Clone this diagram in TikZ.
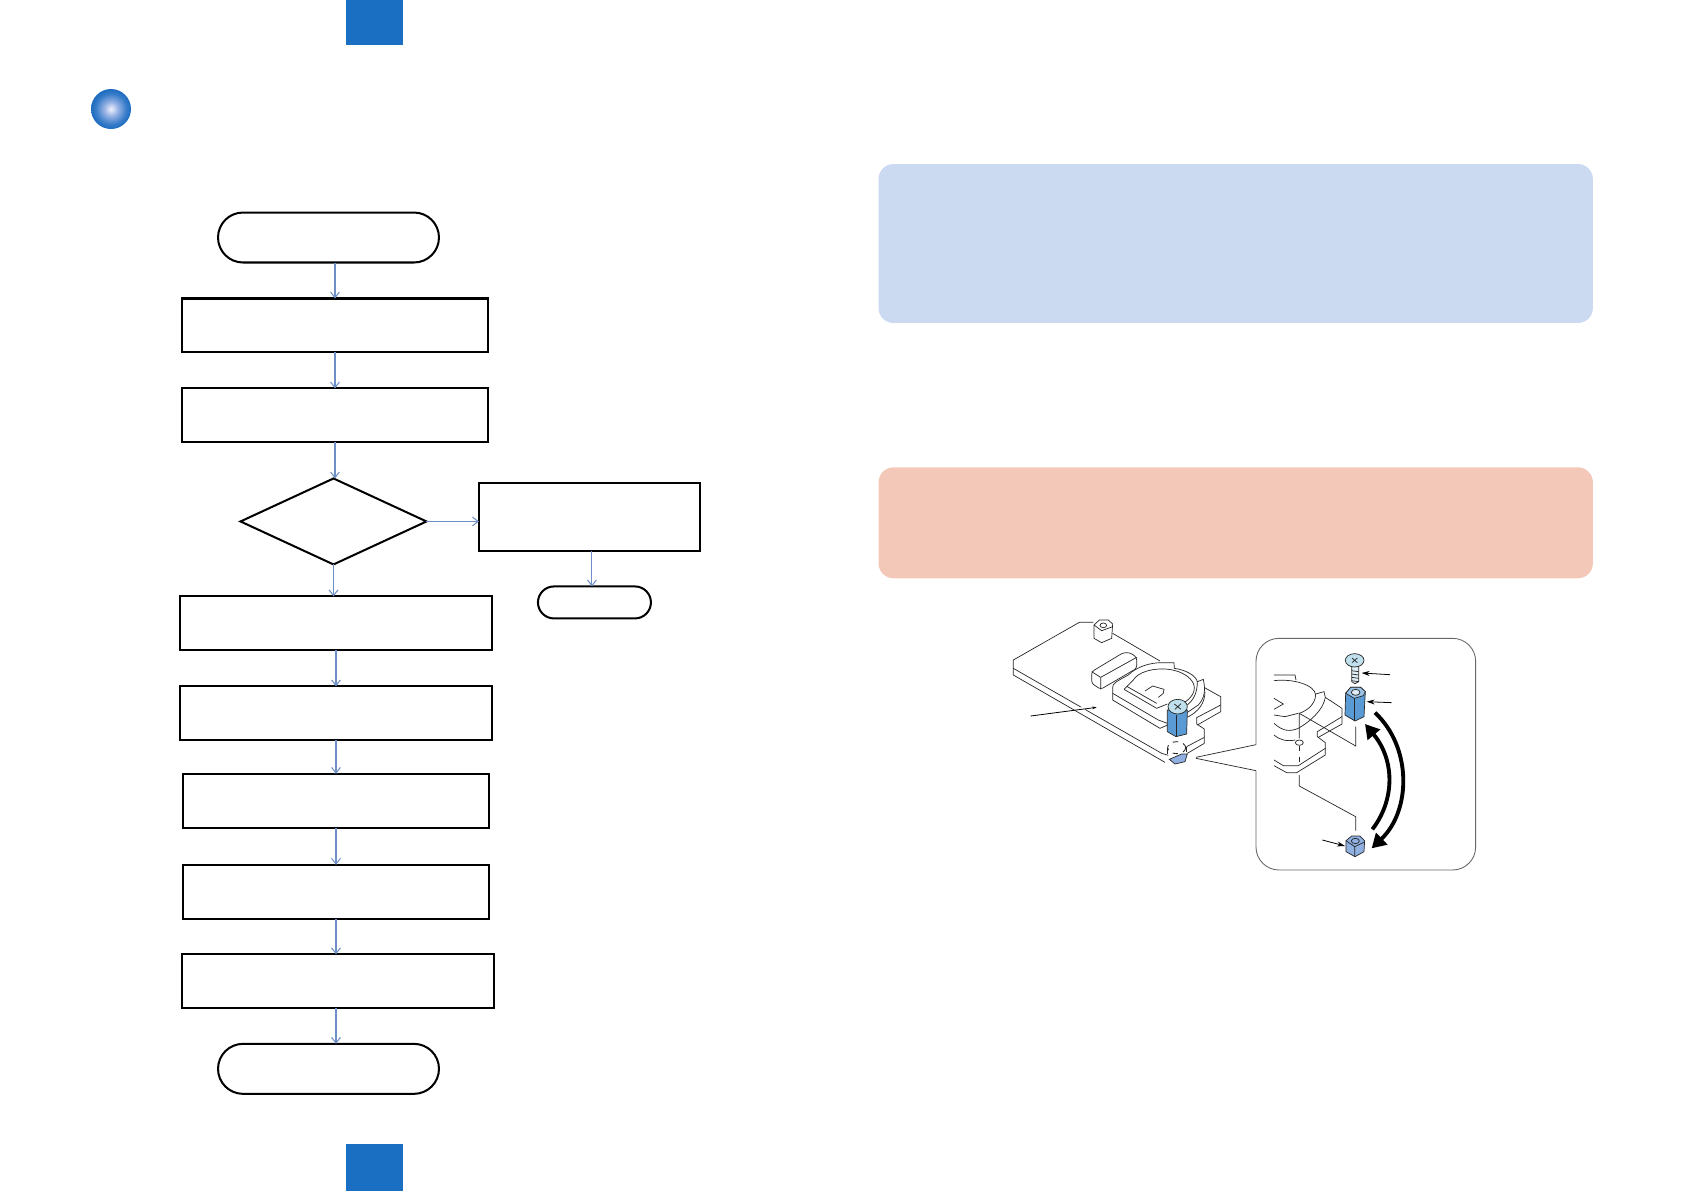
\documentclass[tikz,border=0pt]{standalone}
\usepackage{amsmath,amssymb}
\usepackage{tikz}
\usetikzlibrary{arrows.meta,positioning,shapes.geometric,shapes.misc}
\definecolor{tabblue}{HTML}{1B6FC2}
\definecolor{flowblue}{HTML}{6F90C6}
\definecolor{notefill}{HTML}{CBD9F1}
\definecolor{warnfill}{HTML}{F4C8B9}
\definecolor{partblue}{HTML}{5B9BD5}
\definecolor{partlight}{HTML}{BFE0EC}
\definecolor{nutblue}{HTML}{8FB0E0}
\pgfdeclareradialshading{headball}{\pgfpointorigin}{rgb(0bp)=(0.94,0.95,0.99); rgb(9bp)=(0.58,0.69,0.89); rgb(19bp)=(0.22,0.49,0.79); rgb(25bp)=(0.11,0.42,0.75); rgb(50bp)=(0.11,0.42,0.75)}

\begin{document}
\begin{tikzpicture}[x=0.02cm, y=-0.02cm,
    stepbox/.style={draw, line width=1.15pt, outer sep=0pt, inner sep=0pt, minimum height=1.08cm},
    startstop/.style={rounded rectangle, draw, line width=1.15pt, outer sep=0pt, inner sep=0pt, minimum width=4.42cm, minimum height=1cm},
    check/.style={diamond, draw, line width=1.15pt, outer sep=0pt, inner sep=0pt, minimum width=3.72cm, minimum height=1.72cm},
    flow/.style={draw=flowblue, line width=0.6pt, -{Straight Barb[length=3.2pt,width=5pt]}},
    tab/.style={fill=tabblue, outer sep=0pt, inner sep=0pt, minimum width=1.14cm},
    panel/.style={rounded corners=0.3cm, outer sep=0pt, inner sep=0pt, minimum width=14.29cm},
    partline/.style={line width=0.4pt, black!85},
    bluepart/.style={partline, fill=partblue},
    backarrow/.style={line width=2.2pt, -{Triangle[length=8pt,width=9pt]}},
    pointer/.style={line width=0.45pt, -{Stealth[length=4.5pt,width=2.8pt]}}]
    \useasboundingbox (0,0) rectangle (1684,1191);

    \node[tab, minimum height=0.9cm] (toptab) at (374.5,22.5) {};
    \node[tab, minimum height=0.94cm] (bottomtab) at (374.5,1167.5) {};
    \shade[shading=headball] (111,109) circle (20);

    \node[startstop] (start) at (328.5,237.5) {};
    \node[stepbox, minimum width=6.14cm, below=0.72cm of start, xshift=0.13cm] (removebox) {};
    \node[stepbox, minimum width=6.14cm, below=0.72cm of removebox] (fitbox) {};
    \node[check, below=0.72cm of fitbox, xshift=-0.03cm] (decision) {};
    \node[stepbox, minimum width=4.42cm, minimum height=1.36cm, right=1.05cm of decision, yshift=0.08cm] (sidebox) {};
    \node[startstop, minimum width=2.26cm, minimum height=0.64cm, below=0.7cm of sidebox, xshift=0.1cm] (sidestop) {};
    \node[stepbox, minimum width=6.23cm, below=0.64cm of decision, xshift=0.05cm] (stepa) {};
    \node[stepbox, minimum width=6.23cm, below=0.72cm of stepa] (stepb) {};
    \node[stepbox, minimum width=6.14cm, below=0.67cm of stepb] (stepc) {};
    \node[stepbox, minimum width=6.14cm, below=0.74cm of stepc] (stepd) {};
    \node[stepbox, minimum width=6.23cm, below=0.71cm of stepd, xshift=0.04cm] (stepe) {};
    \node[startstop, below=0.71cm of stepe, xshift=-0.19cm] (stop) {};

    \draw[flow] (start.south -| removebox.north) -- (removebox.north);
    \draw[flow] (removebox) -- (fitbox);
    \draw[flow] (fitbox.south) -- (fitbox.south |- decision.north);
    \draw[flow] (decision.east) -- (decision.east -| sidebox.west);
    \draw[flow] ([xshift=0.05cm]sidebox.south) -- ([xshift=0.05cm]sidebox.south |- sidestop.north);
    \draw[flow] (decision.south) -- (decision.south |- stepa.north);
    \draw[flow] (stepa) -- (stepb);
    \draw[flow] (stepb) -- (stepc);
    \draw[flow] (stepc) -- (stepd);
    \draw[flow] (stepd.south) -- (stepd.south |- stepe.north);
    \draw[flow] (stepd.south |- stepe.south) -- (stepd.south |- stop.north);

    \node[panel, fill=notefill, minimum height=3.18cm] (note) at (1235.7,243.5) {};
    \node[panel, fill=warnfill, minimum height=2.22cm] (warning) at (1235.7,522.8) {};

    % the board, traced in crop coordinates
    \begin{scope}[shift={(990,600)}, x=0.006667cm, y=-0.006667cm]
      % board
      \draw[partline] (310,67) -- (268,67) -- (70,180) -- (70,205) -- (515,460) -- (535,466);
      \draw[partline] (70,205) -- (70,225) -- (525,487);
      \draw[partline] (368,100) -- (510,183);
      \draw[partline] (642,262) -- (692,290) -- (692,315) -- (620,353) -- (620,372) -- (643,387) -- (643,412) -- (590,440);
      \draw[partline] (692,315) -- (692,335) -- (622,375);
      \draw[partline] (643,412) -- (643,430) -- (592,460);
      % connector block
      \draw[partline, fill=white, rounded corners=1.5pt] (305,215) -- (400,158) -- (420,158) -- (440,172) -- (440,205) -- (332,268) -- (305,250) -- cycle;
      \draw[partline] (305,215) -- (332,232) -- (440,172) (332,232) -- (332,268);
      % battery holder
      \draw[partline, fill=white] (368,262) .. controls (368,250) and (378,245) .. (415,225) .. controls (440,200) and (480,188) .. (515,188) -- (552,188) -- (553,205) .. controls (590,210) and (618,228) .. (622,245) -- (640,238) .. controls (645,262) and (648,290) .. (625,315) -- (540,372) -- (510,385) -- (368,300) -- cycle;
      \draw[partline] (368,280) -- (505,360) -- (532,370);
      \draw[partline] (592,352) .. controls (625,335) and (645,310) .. (645,275);
      \draw[partline] (622,245) .. controls (622,280) and (610,300) .. (592,315);
      \fill[white] (430,240) .. controls (445,215) and (490,205) .. (525,207) .. controls (580,210) and (615,240) .. (613,265) .. controls (612,290) and (585,310) .. (560,318) -- (500,300) -- (410,258) -- cycle;
      \draw[partline] (430,240) .. controls (445,215) and (490,205) .. (525,207) .. controls (580,210) and (615,240) .. (613,265) .. controls (612,290) and (585,310) .. (560,318);
      \draw[partline] (402,268) -- (430,240) (402,268) -- (500,325) -- (532,312) (412,260) -- (500,310);
      \draw[partline] (465,273) -- (488,258) -- (522,268) -- (520,280) -- (505,292);
      % screw and stand-off on the board
      \draw[bluepart] (532,330) -- (532,395) -- (558,410) -- (590,402) -- (592,330) -- cycle;
      \draw[partline] (558,345) -- (558,410);
      \draw[partline, fill=partlight] (563,320) ellipse [x radius=29, y radius=22];
      \draw[partline] (553,312) -- (573,328) (573,311) -- (555,328);
      % nut under the board
      \draw[partline, dashed, line width=0.5pt] (560,443) ellipse [x radius=27, y radius=18];
      \draw[partline, dashed] (533,445) -- (533,475) (590,440) -- (590,465);
      \draw[partline, fill=nutblue] (538,478) -- (555,492) -- (585,485) -- (592,462) -- (575,462) -- cycle;
      % white stand-off
      \draw[partline, fill=white] (312,75) -- (328,60) -- (355,60) -- (368,72) -- (365,115) -- (335,128) -- (312,115) -- cycle;
      \draw[partline] (340,76) ellipse [x radius=10, y radius=7];
      \draw[partline] (312,75) -- (335,92) -- (368,80);
      % pointer on the board
      \draw[white, line width=2pt] (265,328) -- (285,326);
      \draw[pointer, -{Stealth[length=2.5pt,width=1.6pt]}] (122,348) -- (320,322);

      % inset frame and its wedge
      \draw[black!60, line width=0.5pt, rounded corners=0.46cm] (798,512) -- (798,810) -- (1457,810) -- (1457,115) -- (798,115) -- (798,434);
      \draw[partline] (798,434) -- (618,472) (618,475) -- (798,512);
      % holder in the inset
      \draw[partline] (852,225) -- (915,225) -- (918,240);
      \draw[partline] (852,242) .. controls (910,235) and (975,255) .. (977,285) .. controls (975,315) and (950,332) .. (928,340);
      \draw[partline] (977,282) -- (1002,275) -- (1006,292) -- (1056,325) -- (1056,350) -- (982,395) -- (982,410) -- (1006,428) -- (1006,465) -- (920,518) -- (890,518) -- (852,497);
      \draw[partline] (1056,350) -- (1056,372) -- (985,412);
      \draw[partline] (1006,292) .. controls (1000,330) and (960,365) .. (925,385) .. controls (900,395) and (880,395) .. (852,370);
      \draw[partline] (852,480) -- (880,497) -- (925,497) -- (1006,445);
      \draw[partline] (852,295) -- (880,312) -- (852,328);
      \draw[partline] (852,345) -- (885,350) -- (925,340);
      \draw[partline] (852,405) .. controls (870,420) and (890,425) .. (916,420);
      % leader lines
      \draw[partline] (1097,380) -- (1097,438) -- (928,340) -- (928,415);
      \draw[partline] (928,428) ellipse [x radius=12, y radius=8];
      \draw[partline, dashed] (928,438) -- (928,495);
      \draw[partline] (928,525) -- (928,558) -- (1097,650) -- (1097,692);
      % screw
      \draw[partline, fill=partlight!50] (1085,198) -- (1085,245) -- (1095,251) -- (1106,245) -- (1106,198) -- cycle;
      \foreach \ty in {212,222,232,242}
        \draw[partline] (1085,\ty) -- (1106,\ty+3);
      \draw[partline, fill=partlight] (1094,181) ellipse [x radius=28, y radius=20];
      \draw[partline] (1086,174) -- (1102,188) (1102,174) -- (1086,188);
      % stand-off
      \draw[bluepart] (1067,280) -- (1082,262) -- (1112,262) -- (1126,275) -- (1122,350) -- (1095,363) -- (1065,345) -- cycle;
      \draw[partline] (1093,295) -- (1093,363);
      \draw[partline, fill=partblue!60] (1067,280) -- (1082,262) -- (1112,262) -- (1126,275) -- (1120,287) -- (1093,295) -- cycle;
      \draw[partline, fill=partblue!20] (1097,277) ellipse [x radius=13, y radius=9];
      % nut
      \draw[partline, fill=nutblue] (1068,722) -- (1085,708) -- (1110,708) -- (1124,722) -- (1122,755) -- (1095,770) -- (1068,755) -- cycle;
      \draw[partline] (1068,722) -- (1094,740) -- (1124,726) (1094,740) -- (1094,770);
      \draw[partline] (1096,723) ellipse [x radius=12, y radius=8];
      % arrows
      \draw[pointer] (1200,224) -- (1115,219);
      \draw[pointer] (1205,308) -- (1130,305);
      \draw[pointer] (997,720) -- (1065,738);
      \draw[backarrow] (1155,338) .. controls (1265,440) and (1265,630) .. (1145,745);
      \draw[backarrow] (1147,688) .. controls (1215,600) and (1215,480) .. (1125,372);
    \end{scope}
  \end{tikzpicture}
\end{document}
